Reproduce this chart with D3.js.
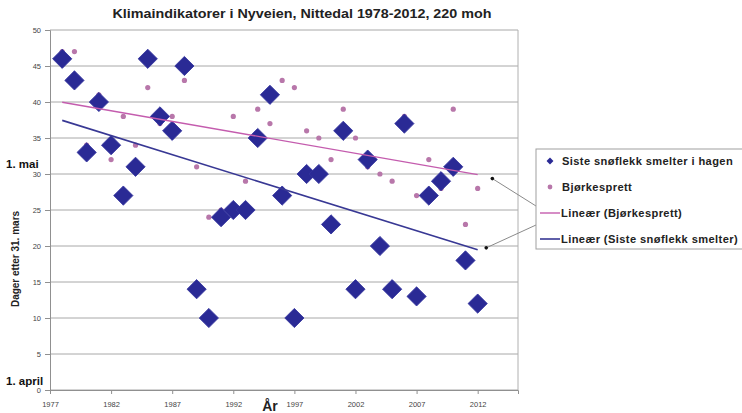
<!DOCTYPE html>
<html>
<head>
<meta charset="utf-8">
<script src="https://cdn.jsdelivr.net/npm/d3@7/dist/d3.min.js"></script>
<style>
  html, body { margin: 0; padding: 0; background: #fff; }
  svg { display: block; font-family: "Liberation Sans", Arial, sans-serif; }
</style>
</head>
<body>
<svg id="chart" width="742" height="413"></svg>
<script>
// ---- data ----
const years = d3.range(1978, 2013);
const snowValues = [46,43,33,40,34,27,31,46,38,36,45,14,10,24,25,25,35,41,27,10,30,30,23,36,14,32,20,14,37,13,27,29,31,18,12];
const birchValues = [47,47,34,41,32,38,34,42,37,38,43,31,24,25,38,29,39,37,43,42,36,35,32,39,35,31,30,29,38,27,32,28,39,23,28];
const xTicks = [1977,1982,1987,1992,1997,2002,2007,2012];
const yTicks = [0,5,10,15,20,25,30,35,40,45,50];
const titleText = "Klimaindikatorer i Nyveien, Nittedal 1978-2012, 220 moh";
const seriesNames = ["Siste snøflekk smelter i hagen", "Bjørkesprett", "Lineær (Bjørkesprett)", "Lineær (Siste snøflekk smelter)"];

const svg = d3.select("#chart");
const x = d3.scaleLinear().domain([1977, 2015.3]).range([50, 518]);
const y = d3.scaleLinear().domain([0, 50]).range([390, 30]);

const blue = "#2a2a95";
const pink = "#b877aa";
const pinkLine = "#c45cae";
const blueLine = "#383894";

// title
svg.append("text").attr("x", 302).attr("y", 18).attr("text-anchor", "middle")
  .attr("font-size", 13.5).attr("font-weight", "bold").attr("fill", "#222")
  .attr("textLength", 379).attr("lengthAdjust", "spacingAndGlyphs").text(titleText);

// gridlines
svg.append("g").selectAll("line").data(yTicks).join("line")
  .attr("x1", x.range()[0]).attr("x2", x.range()[1])
  .attr("y1", d => y(d)).attr("y2", d => y(d))
  .attr("stroke", "#a8a8a8").attr("stroke-width", 1);
// right border
svg.append("line").attr("x1", 518).attr("x2", 518).attr("y1", y(50)).attr("y2", y(0))
  .attr("stroke", "#b0b0b0");

// y axis
const yAxis = svg.append("g").attr("transform", `translate(${x.range()[0]},0)`)
  .call(d3.axisLeft(y).tickValues(yTicks).tickSize(5).tickFormat(d3.format("d")));
yAxis.select(".domain").attr("stroke", "#909090");
yAxis.selectAll(".tick line").attr("stroke", "#909090");
yAxis.selectAll("text").attr("font-size", 7.5).attr("fill", "#444").attr("dx", "-1");

// x axis
const xAxis = svg.append("g").attr("transform", `translate(0,${y(0)})`)
  .call(d3.axisBottom(x).tickValues(xTicks).tickSize(4).tickFormat(d3.format("d")));
xAxis.select(".domain").attr("stroke", "#909090");
xAxis.selectAll(".tick line").attr("stroke", "#909090");
xAxis.selectAll("text").attr("font-size", 7.5).attr("fill", "#444").attr("dy", "1.3em");

// axis titles
svg.append("text").attr("transform", "translate(19,259) rotate(-90)").attr("text-anchor", "middle")
  .attr("font-size", 10).attr("font-weight", "bold").attr("fill", "#222").text("Dager etter 31. mars");
svg.append("text").attr("x", 270).attr("y", 411).attr("text-anchor", "middle")
  .attr("font-size", 14).attr("font-weight", "bold").attr("fill", "#222").text("År");
svg.append("text").attr("x", 6).attr("y", 168)
  .attr("font-size", 11.5).attr("font-weight", "bold").attr("fill", "#111").text("1. mai");
svg.append("text").attr("x", 6).attr("y", 385)
  .attr("font-size", 11.5).attr("font-weight", "bold").attr("fill", "#111").text("1. april");

// regression
function linreg(xs, ys) {
  const mx = d3.mean(xs), my = d3.mean(ys);
  let num = 0, den = 0;
  xs.forEach((v, i) => { num += (v - mx) * (ys[i] - my); den += (v - mx) ** 2; });
  const b = num / den;
  return t => my + b * (t - mx);
}
const fBirch = linreg(years, birchValues);
const fSnow = linreg(years, snowValues);
const x0 = years[0], x1 = years[years.length - 1];

// birch points
svg.append("g").selectAll("circle").data(years).join("circle")
  .attr("cx", d => x(d)).attr("cy", (d, i) => y(birchValues[i])).attr("r", 2.6)
  .attr("fill", pink);

// snow diamonds
const diamond = d3.symbol().type(d3.symbolSquare).size(185);
svg.append("g").selectAll("path").data(years).join("path")
  .attr("d", diamond)
  .attr("transform", (d, i) => `translate(${x(d)},${y(snowValues[i])}) rotate(45)`)
  .attr("fill", blue).attr("stroke", "#34349e").attr("stroke-width", 0.8);

// trendlines
svg.append("line").attr("x1", x(x0)).attr("y1", y(fBirch(x0))).attr("x2", x(x1)).attr("y2", y(fBirch(x1)))
  .attr("stroke", pinkLine).attr("stroke-width", 1.4);
svg.append("line").attr("x1", x(x0)).attr("y1", y(fSnow(x0))).attr("x2", x(x1)).attr("y2", y(fSnow(x1)))
  .attr("stroke", blueLine).attr("stroke-width", 1.6);

// leader lines to legend
const lead = [
  { sx: x(2013.2), sy: y(fBirch(x1)) + 4, ex: 536, ey: 206 },
  { sx: x(2012.7), sy: y(fSnow(x1)) - 2, ex: 536, ey: 225 }
];
svg.append("g").selectAll("line").data(lead).join("line")
  .attr("x1", d => d.sx).attr("y1", d => d.sy).attr("x2", d => d.ex).attr("y2", d => d.ey)
  .attr("stroke", "#8a8a8a").attr("stroke-width", 1);
svg.append("g").selectAll("circle").data(lead).join("circle")
  .attr("cx", d => d.sx).attr("cy", d => d.sy).attr("r", 1.8).attr("fill", "#111");

// legend
const lg = svg.append("g");
lg.append("rect").attr("x", 536).attr("y", 149).attr("width", 215).attr("height", 100)
  .attr("fill", "#fff").attr("stroke", "#a0a0a0");
const rows = [161, 187, 213, 239];
lg.append("path").attr("d", d3.symbol().type(d3.symbolSquare).size(24))
  .attr("transform", `translate(550,${rows[0]}) rotate(45)`).attr("fill", blue);
lg.append("circle").attr("cx", 550).attr("cy", rows[1]).attr("r", 2.4).attr("fill", pink);
lg.append("line").attr("x1", 540).attr("x2", 560).attr("y1", rows[2]).attr("y2", rows[2])
  .attr("stroke", pinkLine).attr("stroke-width", 1.4);
lg.append("line").attr("x1", 540).attr("x2", 560).attr("y1", rows[3]).attr("y2", rows[3])
  .attr("stroke", blueLine).attr("stroke-width", 1.6);
lg.selectAll("text").data(seriesNames).join("text")
  .attr("x", (d, i) => i < 2 ? 562 : 561).attr("y", (d, i) => rows[i] + 4)
  .attr("font-size", 11.1).attr("letter-spacing", 0.4).attr("font-weight", "bold").attr("fill", "#222").text(d => d);
</script>
</body>
</html>
